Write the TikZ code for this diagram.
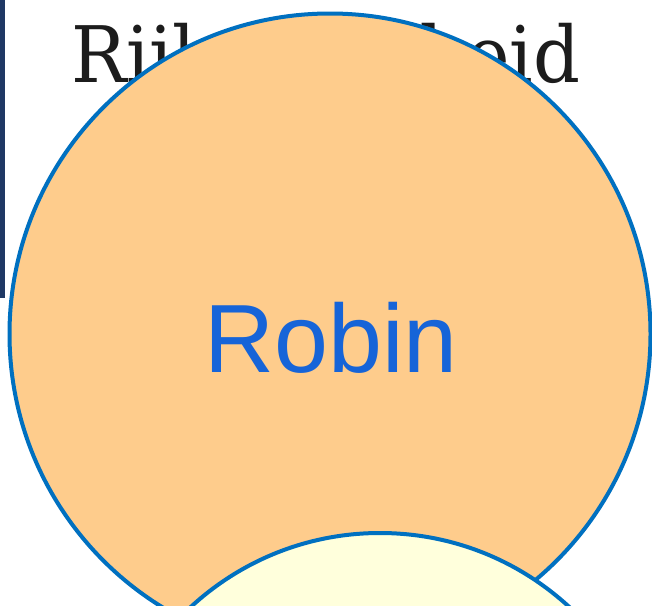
\documentclass[tikz,border=0pt]{standalone}
\usepackage{fontspec}
\usepackage{graphicx}
\setmainfont{DejaVu Serif}
\newfontfamily\robinfont{Liberation Sans}
\definecolor{rimblue}{RGB}{0,112,192}
\definecolor{peach}{RGB}{254,204,140}
\definecolor{paleyellow}{RGB}{255,255,220}
\definecolor{barblue}{RGB}{31,56,100}
\definecolor{textblue}{RGB}{22,100,216}
\definecolor{titleblack}{RGB}{28,28,28}
\tikzset{
  bubble/.style={draw=rimblue, line width=4pt},
}
\begin{document}
\begin{tikzpicture}[x=1pt,y=-1pt]
\useasboundingbox (0,0) rectangle (652,605);
\fill[white] (0,0) rectangle (652,605);
\fill[barblue] (0,0) rectangle (4.5,298);
\node[anchor=base west, inner sep=0pt, text=titleblack] (title) at (71,82)
  {\resizebox{509pt}{\height}{\fontsize{78}{84}\selectfont Rijksoverheid}};
\draw[bubble, fill=peach] (330,334) circle[radius=320.5];
\node[anchor=base, inner sep=0pt, text=textblue] (robin) at (331,372)
  {\robinfont\fontsize{97}{100}\selectfont Robin};
\draw[bubble, fill=paleyellow] (380,812) circle[radius=279];
\end{tikzpicture}
\end{document}
